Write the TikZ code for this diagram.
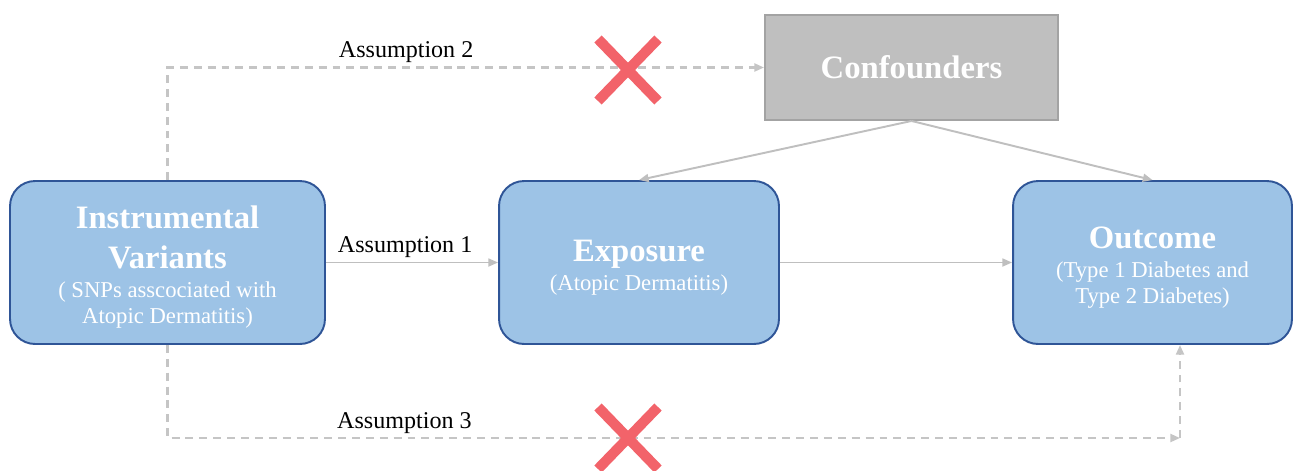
\documentclass[tikz,border=0pt]{standalone}
\usepackage{fontspec}
\setmainfont{Liberation Serif}
\usetikzlibrary{shapes,positioning,calc,arrows.meta}
\definecolor{boxblue}{HTML}{9DC3E6}
\definecolor{boxline}{HTML}{2F5597}
\definecolor{confgray}{HTML}{BFBFBF}
\definecolor{confline}{HTML}{A3A3A3}
\definecolor{arrowgray}{HTML}{BFBFBF}
\definecolor{crossred}{HTML}{F2636A}
\newcommand{\titlefont}{\fontsize{18.6}{22.7}\selectfont\bfseries}
\newcommand{\notefont}{\fontsize{12.9}{14.7}\selectfont}

\begin{document}
\begin{tikzpicture}
  [x=0.02cm,y=-0.02cm,
   varN/.style={rectangle,rounded corners=0.5cm,draw=boxline,line width=1.1pt,
                fill=boxblue,text=white,align=center,minimum height=3.26cm,
                inner sep=0pt,font=\notefont},
   confN/.style={rectangle,draw=confline,line width=1.1pt,fill=confgray,
                 text=white,minimum width=5.86cm,minimum height=2.1cm,
                 font=\titlefont},
   solidA/.style={draw=arrowgray,line width=1.1pt,
                  -{Triangle[length=5.5pt,width=4.5pt]}},
   dashA/.style={draw=arrowgray!90,line width=1.3pt,dash pattern=on 4.5pt off 3.4pt,
                 -{Triangle[length=5.5pt,width=4.5pt]}},
   labelN/.style={font=\fontsize{13.7}{16}\selectfont,inner sep=2pt},
   crossN/.style={draw=crossred,line width=5.8pt}]

  \useasboundingbox (0,0) rectangle (1293,470);

  \coordinate (x2) at (628,70);
  \coordinate (x3) at (628,438);
  \coordinate (c3) at (1180,438);

  \node[varN,minimum width=6.3cm] (inst) at (167.5,262.5)
    {\mbox{}\\[3.5pt]{\titlefont Instrumental}\\[8pt]{\titlefont Variants}\\[1.8pt]
     ( SNPs asscociated with\\Atopic Dermatitis)};
  \node[varN,minimum width=5.6cm] (expo) at (639,262.5)
    {\mbox{}\\[3.5pt]{\titlefont Exposure}\\[1.5pt](Atopic Dermatitis)};
  \node[varN,minimum width=5.58cm] (outc) at (1152.5,262.5)
    {\mbox{}\\[3.5pt]{\titlefont Outcome}\\[1.8pt](Type 1 Diabetes and\\Type 2 Diabetes)};
  \node[confN] (conf) at (911.5,67.5) {Confounders};

  % assumption 1: direct path
  \draw[solidA] (inst.east) -- node[labelN,above,pos=0.46] (lbl1) {Assumption 1} (expo.west);
  \draw[solidA] (expo.east) -- (outc.west);

  % confounders
  \draw[solidA] (conf.south) -- (expo.north);
  \draw[solidA] (conf.south) -- (outc.north);

  % assumption 2 and 3: no such paths
  \draw[dashA] (inst.north) |- node[labelN,above,pos=0.7] (lbl2) {Assumption 2} (conf.west);
  \draw[dashA] (inst.south) |- node[labelN,above,pos=0.617] (lbl3) {Assumption 3} (c3);
  \draw[dashA] (c3) -- (c3 |- outc.south);

  \draw[crossN] ($(x2)+(-30,-31)$) -- ($(x2)+(30,31)$);
  \draw[crossN] ($(x2)+(-30,31)$) -- ($(x2)+(30,-31)$);
  \draw[crossN] ($(x3)+(-30,-31)$) -- ($(x3)+(30,31)$);
  \draw[crossN] ($(x3)+(-30,31)$) -- ($(x3)+(30,-31)$);
\end{tikzpicture}
\end{document}
